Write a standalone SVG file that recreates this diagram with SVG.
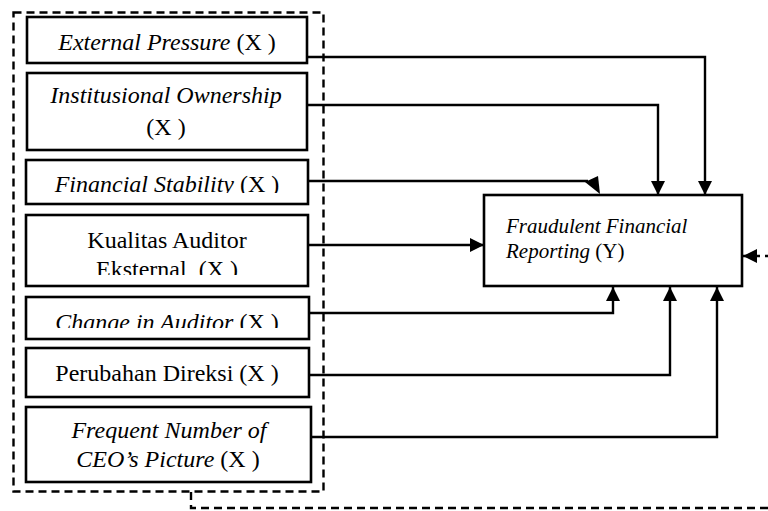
<svg xmlns="http://www.w3.org/2000/svg" width="768" height="511" viewBox="0 0 768 511">
  <style>
    .box { fill: #fff; stroke: #000; stroke-width: 2.6; }
    .t { font-family: "Liberation Serif", "Times New Roman", serif; font-size: 24px; fill: #000; text-anchor: middle; white-space: pre; }
    .ty { font-family: "Liberation Serif", "Times New Roman", serif; font-size: 21px; fill: #000; white-space: pre; }
    .i { font-style: italic; }
    .wire { fill: none; stroke: #000; stroke-width: 2.4; }
    .dash { fill: none; stroke: #000; stroke-width: 2.4; stroke-dasharray: 8 5; }
  </style>
  <defs>
    <marker id="arrow" markerUnits="userSpaceOnUse" markerWidth="15" markerHeight="15" refX="14" refY="7" orient="auto">
      <path d="M0,0 L14,7 L0,14 Z" fill="#000"/>
    </marker>
    <clipPath id="c3"><rect x="27" y="160" width="280" height="33"/></clipPath>
    <clipPath id="c4"><rect x="27" y="215" width="280" height="60"/></clipPath>
    <clipPath id="c5"><rect x="27" y="297" width="282" height="31"/></clipPath>
  </defs>

  <!-- dashed grouping frame around the independent variables -->
  <g id="frame">
    <rect class="dash" x="13.5" y="12.5" width="310" height="479"/>
  </g>

  <g id="x1">
    <rect class="box" x="27" y="17" width="280" height="46"/>
    <text class="t" x="167" y="50"><tspan class="i">External Pressure</tspan> (X )</text>
  </g>

  <g id="x2">
    <rect class="box" x="27" y="73" width="280" height="77"/>
    <text class="t i" x="166" y="103">Institusional Ownership</text>
    <text class="t" x="166" y="135">(X )</text>
  </g>

  <g id="x3">
    <rect class="box" x="26" y="160" width="282" height="44"/>
    <text class="t" x="167" y="192" clip-path="url(#c3)"><tspan class="i">Financial Stability</tspan> (X )</text>
  </g>

  <g id="x4">
    <rect class="box" x="26" y="215" width="282" height="71"/>
    <g clip-path="url(#c4)">
      <text class="t" x="167" y="248">Kualitas Auditor</text>
      <text class="t" x="167" y="277">Eksternal  (X )</text>
    </g>
  </g>

  <g id="x5">
    <rect class="box" x="26" y="297" width="283" height="42"/>
    <text class="t" x="167" y="330" clip-path="url(#c5)"><tspan class="i">Change in Auditor</tspan> (X )</text>
  </g>

  <g id="x6">
    <rect class="box" x="26" y="348" width="283" height="49"/>
    <text class="t" x="167" y="381">Perubahan Direksi (X )</text>
  </g>

  <g id="x7">
    <rect class="box" x="26" y="407" width="285" height="75"/>
    <text class="t i" x="169" y="438">Frequent Number of</text>
    <text class="t" x="168" y="467"><tspan class="i">CEO’s Picture</tspan> (X )</text>
  </g>

  <g id="y">
    <rect class="box" x="484" y="195" width="258" height="91"/>
    <text class="ty i" x="506" y="233">Fraudulent Financial</text>
    <text class="ty" x="506" y="258"><tspan class="i">Reporting</tspan> (Y)</text>
  </g>

  <g id="connectors">
    <path class="wire" d="M307,57 H705 V195" marker-end="url(#arrow)"/>
    <path class="wire" d="M307,105 H658 V195" marker-end="url(#arrow)"/>
    <path class="wire" d="M308,181 H588"/>
    <polygon points="585,182 598,176 600,194" fill="#000"/>
    <path class="wire" d="M308,245 H484" marker-end="url(#arrow)"/>
    <path class="wire" d="M309,313 H613 V287" marker-end="url(#arrow)"/>
    <path class="wire" d="M309,375 H670 V287" marker-end="url(#arrow)"/>
    <path class="wire" d="M311,437 H717 V287" marker-end="url(#arrow)"/>
    <path class="dash" d="M191,492 V508 H790 V256 H743" marker-end="url(#arrow)"/>
  </g>
</svg>
